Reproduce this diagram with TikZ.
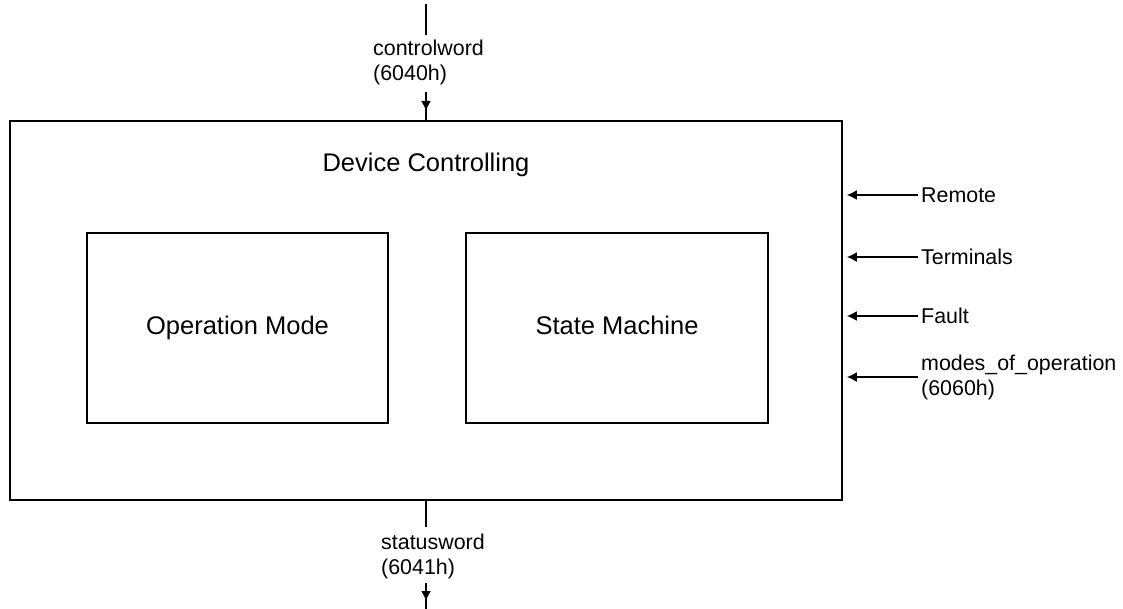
\documentclass[tikz,border=0pt]{standalone}
\usepackage{fontspec}
\setmainfont{Liberation Sans}
\usetikzlibrary{arrows.meta,decorations.markings}
\tikzset{
  ln/.style={line width=1.6pt},
  boxst/.style={draw, ln, inner sep=0pt},
  bigtxt/.style={font=\fontsize{25.5}{30}\selectfont, inner sep=0pt},
  smalltxt/.style={font=\fontsize{21.4}{25}\selectfont, inner sep=0pt, align=left},
  sidetxt/.style={smalltxt, anchor=west, inner xsep=3pt},
  arr/.style={ln, -{Latex[length=10pt,width=10pt]}},
  midarr/.style={ln, postaction=decorate, decoration={markings, mark=at position #1 with {\arrow{Latex[length=10pt,width=10pt]}}}}
}
\begin{document}
\begin{tikzpicture}[x=1pt,y=-1pt]
\useasboundingbox (0,0) rectangle (1123,609);
% outer box
\node[boxst, minimum width=832pt, minimum height=379pt] (dc) at (426,310.5) {};
\node[bigtxt] (title) at (426,165) {Device Controlling};
% inner boxes
\node[boxst, bigtxt, draw, ln, minimum width=301pt, minimum height=190pt, text height=18pt, text depth=5pt] (om) at (237.5,328) {Operation Mode};
\node[boxst, bigtxt, draw, ln, minimum width=302pt, minimum height=190pt, text height=18pt, text depth=5pt] (sm) at (617,328) {State Machine};
% top input
\coordinate (t1) at (426,4);
\coordinate (t2) at (426,35);
\coordinate (t3) at (426,92);
\node[smalltxt, anchor=west] (cw) at (373,62.5) {controlword\\(6040h)};
\draw[ln] (t1) -- (t2);
\draw[midarr=19pt] (t3) -- (dc.north);
% bottom output
\coordinate (b1) at (426,527);
\coordinate (b2) at (426,583);
\coordinate (b3) at (426,609);
\node[smalltxt, anchor=west] (sw) at (381,556) {statusword\\(6041h)};
\draw[ln] (dc.south) -- (b1);
\draw[midarr=18pt] (b2) -- (b3);
% right inputs
\node[sidetxt] (rem) at (918,195) {Remote};
\node[sidetxt] (ter) at (918,257) {Terminals};
\node[sidetxt] (flt) at (918,316) {Fault};
\node[sidetxt] (mop) at (918,377) {modes\_of\_operation\\(6060h)};
\draw[arr, shorten >=4pt] (rem.west) -- (rem.west -| dc.east);
\draw[arr, shorten >=4pt] (ter.west) -- (ter.west -| dc.east);
\draw[arr, shorten >=4pt] (flt.west) -- (flt.west -| dc.east);
\draw[arr, shorten >=4pt] (mop.west) -- (mop.west -| dc.east);
\end{tikzpicture}
\end{document}
